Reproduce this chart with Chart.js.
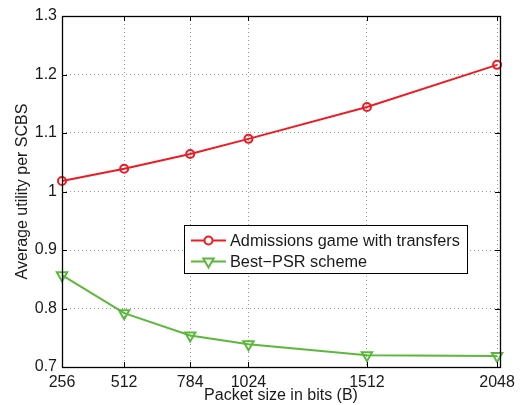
<!DOCTYPE html>
<html>
<head>
<meta charset="utf-8">
<script src="https://cdn.jsdelivr.net/npm/chart.js@4/dist/chart.umd.min.js"></script>
<style>
  html, body { margin: 0; padding: 0; background: #ffffff; }
  #wrap { width: 521px; height: 405px; }
</style>
</head>
<body>
<div id="wrap"><canvas id="c" width="521" height="405"></canvas></div>
<script>
// Packet sizes (bits) and the average utility per SCBS for each scheme
const packetSizes = [256, 512, 784, 1024, 1512, 2048];
const admissionsGame = [1.018, 1.039, 1.064, 1.090, 1.1445, 1.2165];
const bestPSR = [0.857, 0.792, 0.754, 0.739, 0.720, 0.719];
const xTickValues = [256, 512, 784, 1024, 1512, 2048];
const yTickValues = [0.7, 0.8, 0.9, 1.0, 1.1, 1.2, 1.3];
const seriesNames = ['Admissions game with transfers', 'Best\u2212PSR scheme'];

const RED = 'rgb(237,28,36)';
const GREEN = 'rgb(92,184,60)';
const FONT = 'Liberation Sans, Arial, Helvetica, sans-serif';

// Box frame with inward tick marks on all four sides
const framePlugin = {
  id: 'frame',
  afterDatasetsDraw(chart) {
    const { ctx, chartArea: a, scales } = chart;
    ctx.save();
    ctx.strokeStyle = '#000';
    ctx.lineWidth = 1;
    const tl = 5;
    ctx.beginPath();
    xTickValues.forEach(v => {
      const x = Math.round(scales.x.getPixelForValue(v)) + 0.5;
      ctx.moveTo(x, a.bottom); ctx.lineTo(x, a.bottom - tl);
      ctx.moveTo(x, a.top); ctx.lineTo(x, a.top + tl);
    });
    yTickValues.forEach(v => {
      const y = Math.round(scales.y.getPixelForValue(v)) + 0.5;
      ctx.moveTo(a.left, y); ctx.lineTo(a.left + tl, y);
      ctx.moveTo(a.right, y); ctx.lineTo(a.right - tl, y);
    });
    ctx.stroke();
    ctx.lineWidth = 1.3;
    ctx.strokeRect(Math.round(a.left) + 0.5, Math.round(a.top) + 0.5,
                   Math.round(a.right - a.left), Math.round(a.bottom - a.top));
    ctx.restore();
  }
};

// Boxed legend placed inside the plot area
const boxLegend = {
  id: 'boxLegend',
  afterDraw(chart) {
    const { ctx } = chart;
    const x0 = 184.5, y0 = 225.5, w = 283, h = 48;
    ctx.save();
    ctx.fillStyle = '#fff';
    ctx.fillRect(x0, y0, w, h);
    ctx.strokeStyle = '#000';
    ctx.lineWidth = 1;
    ctx.strokeRect(x0, y0, w, h);
    chart.data.datasets.forEach((ds, i) => {
      const cy = 240.5 + i * 21;
      ctx.strokeStyle = ds.borderColor;
      ctx.lineWidth = 2;
      ctx.beginPath();
      ctx.moveTo(191, cy); ctx.lineTo(226, cy);
      ctx.stroke();
      ctx.fillStyle = '#fff';
      Chart.helpers.drawPoint(ctx, {
        pointStyle: ds.pointStyle,
        radius: ds.pointRadius,
        rotation: ds.pointRotation || 0,
        borderWidth: ds.pointBorderWidth
      }, 208.5, cy);
      ctx.fillStyle = '#1a1a1a';
      ctx.font = '16.3px ' + FONT;
      ctx.textBaseline = 'middle';
      ctx.textAlign = 'left';
      ctx.fillText(ds.label, 230, cy + 1);
    });
    ctx.restore();
  }
};

new Chart(document.getElementById('c'), {
  type: 'line',
  data: {
    datasets: [
      {
        label: seriesNames[0],
        data: packetSizes.map((x, i) => ({ x, y: admissionsGame[i] })),
        borderColor: RED,
        backgroundColor: 'rgba(0,0,0,0)',
        borderWidth: 2,
        pointStyle: 'circle',
        pointRadius: 4,
        pointBorderWidth: 2,
        pointBorderColor: RED,
        pointBackgroundColor: 'rgba(0,0,0,0)',
        clip: false
      },
      {
        label: seriesNames[1],
        data: packetSizes.map((x, i) => ({ x, y: bestPSR[i] })),
        borderColor: GREEN,
        backgroundColor: 'rgba(0,0,0,0)',
        borderWidth: 2,
        pointStyle: 'triangle',
        pointRotation: 180,
        pointRadius: 6,
        pointBorderWidth: 2,
        pointBorderColor: GREEN,
        pointBackgroundColor: 'rgba(0,0,0,0)',
        clip: false
      }
    ]
  },
  options: {
    responsive: false,
    animation: false,
    devicePixelRatio: 1,
    layout: { padding: { left: 0, right: 17, top: 16, bottom: 0 } },
    plugins: { legend: { display: false }, tooltip: { enabled: false } },
    scales: {
      x: {
        type: 'linear',
        min: 256,
        max: 2060,
        afterBuildTicks(scale) { scale.ticks = xTickValues.map(v => ({ value: v })); },
        afterFit(scale) { scale.height = 38; },
        grid: { color: '#9a9a9a', lineWidth: 1, drawTicks: false },
        border: { display: false, dash: [1, 3] },
        ticks: {
          padding: 6,
          maxRotation: 0,
          autoSkip: false,
          color: '#1a1a1a',
          font: { family: FONT, size: 16 },
          callback: v => String(v)
        },
        title: {
          display: true,
          text: 'Packet size in bits (B)',
          color: '#1a1a1a',
          font: { family: FONT, size: 16 },
          padding: { top: 1, bottom: 0 }
        }
      },
      y: {
        min: 0.7,
        max: 1.3,
        afterBuildTicks(scale) { scale.ticks = yTickValues.map(v => ({ value: v })); },
        afterFit(scale) { scale.width = 62; },
        grid: { color: '#9a9a9a', lineWidth: 1, drawTicks: false },
        border: { display: false, dash: [1, 3] },
        ticks: {
          padding: 5,
          color: '#1a1a1a',
          font: { family: FONT, size: 16 },
          callback: v => String(Number(v.toFixed(1)))
        },
        title: {
          display: true,
          text: 'Average utility per SCBS',
          color: '#1a1a1a',
          font: { family: FONT, size: 16 },
          padding: { top: 13, bottom: 0 }
        }
      }
    }
  },
  plugins: [framePlugin, boxLegend]
});
</script>
</body>
</html>
